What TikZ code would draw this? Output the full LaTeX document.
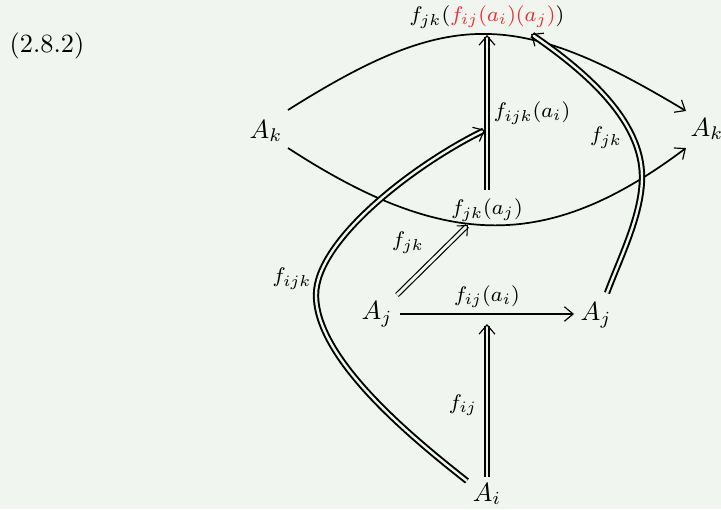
\documentclass[tikz,border=0pt]{standalone}
\usetikzlibrary{arrows.meta}
\definecolor{bgc}{RGB}{240,245,239}
\definecolor{lblred}{RGB}{236,45,50}
\begin{document}
\begin{tikzpicture}[x=0.38pt,y=-0.38pt,
  obj/.style={inner sep=0pt,font=\normalsize},
  lbl/.style={inner sep=0pt,font=\footnotesize},
  sarr/.style={line width=0.65pt,-{Straight Barb[length=3.3pt,width=5.5pt,line width=0.45pt]}},
  darr/.style={line width=0.75pt,double=bgc,double distance=0.9pt,-{Straight Barb[length=3.5pt,width=6pt,line width=0.45pt]}},
  tdarr/.style={line width=0.45pt,double=bgc,double distance=1.1pt,-{Straight Barb[length=3pt,width=5.5pt,line width=0.4pt]}}]
\fill[bgc] (0,0) rectangle (721,509);
\useasboundingbox (0,0) rectangle (721,509);
% objects
\node[obj] (eq) at (47,46) {$(2.8.2)$};
\node[obj] (Akl) at (266,131) {$A_k$};
\node[obj] (Akr) at (707,129) {$A_k$};
\node[obj] (Ajl) at (377,314) {$A_j$};
\node[obj] (Ajr) at (596,315) {$A_j$};
\node[obj] (Ai) at (487,494) {$A_i$};
\node[lbl] (top) at (487,17) {$f_{jk}({\color{lblred}f_{ij}(a_i)(a_j)})$};
% labels
\node[lbl] (l1) at (532,113) {$f_{ijk}(a_i)$};
\node[lbl] (l2) at (606,138) {$f_{jk}$};
\node[lbl] (l3) at (487,210) {$f_{jk}(a_j)$};
\node[lbl] (l4) at (408,243) {$f_{jk}$};
\node[lbl] (l5) at (292,279) {$f_{ijk}$};
\node[lbl] (l6) at (487,297) {$f_{ij}(a_i)$};
\node[lbl] (l7) at (463,405) {$f_{ij}$};
% end points
\coordinate (u1) at (288,110);
\coordinate (u2) at (686,111);
\coordinate (d1) at (288,148);
\coordinate (d2) at (686,148);
\coordinate (vt) at (487,35);
\coordinate (vb) at (487,190);
\coordinate (g1) at (397,295);
\coordinate (g2) at (468,225);
\coordinate (h1) at (400,314);
\coordinate (h2) at (574,314);
\coordinate (i1) at (487,477);
\coordinate (i2) at (487,324);
\coordinate (b1) at (467,481);
\coordinate (bm) at (316,295);
\coordinate (b2) at (485,130);
\coordinate (r1) at (607,293);
\coordinate (rm) at (642,177);
\coordinate (r2) at (531,34);
% connectors
\draw[sarr] (u1) .. controls (449,8.5) and (516,8.5) .. (u2);
\draw[sarr] (d1) .. controls (446,251) and (549,251) .. (d2);
\draw[darr] (vb) -- (vt);
\draw[tdarr] (g1) -- (g2);
\draw[sarr] (h1) -- (h2);
\draw[darr] (i1) -- (i2);
\draw[darr] (b1) .. controls (415,440) and (316,360) .. (bm)
   .. controls (316,240) and (415,164) .. (b2);
\draw[darr] (r1) .. controls (620,258) and (642,215) .. (rm)
   .. controls (642,120) and (585,71) .. (r2);
\end{tikzpicture}
\end{document}
